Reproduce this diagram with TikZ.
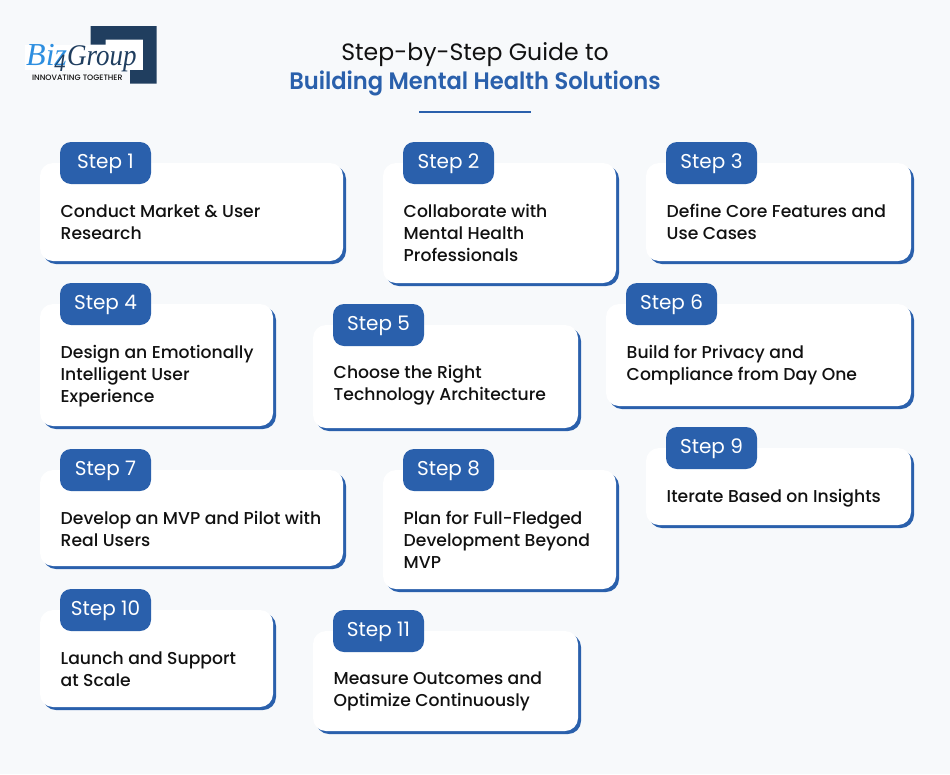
\documentclass[tikz,border=0pt]{standalone}
\usepackage{fontspec}
\setmainfont{Poppins Medium}
\newfontfamily\regularfont{Poppins}
\newfontfamily\titlebold[FakeStretch=0.95]{Poppins SemiBold}
\newfontfamily\logoserif{Liberation Serif}
\newfontfamily\logoserifnarrow[FakeStretch=0.9]{Liberation Serif}
\definecolor{pagebg}{HTML}{F7F9FB}
\definecolor{brand}{HTML}{2A60AC}
\definecolor{navy}{HTML}{203E5F}
\definecolor{sky}{HTML}{2E8FE0}
\definecolor{ink}{HTML}{111111}
\tikzset{
  cardbox/.style={fill=white,rounded corners=13pt},
  cardshade/.style={fill=brand,rounded corners=13pt},
  tabbox/.style={fill=brand,rounded corners=11pt},
  tablabel/.style={text=white,font=\regularfont\fontsize{20}{22}\selectfont,inner sep=0pt,anchor=center},
  cardtext/.style={text=ink,font=\fontsize{17.2}{22}\selectfont,inner sep=0pt,anchor=north west,align=left},
}
\newcommand{\stepcard}[9]{%
  \path[cardshade] (#2+3,#3+3) rectangle (#4+3,#5+3);
  \path[cardbox] (#2,#3) rectangle (#4,#5);
  \path[tabbox] (#2+20,#3-21) rectangle (#2+111,#3+21);
  \node[tablabel] (#1tab) at (#2+65.5,#3+1) {#8};
  \node[cardtext] (#1text) at (#2+20.5,#3+#6-15) {\rule{0pt}{15pt}#9};
}
\begin{document}
\begin{tikzpicture}[x=1pt,y=-1pt]
\useasboundingbox (0,0) rectangle (950,774);
\fill[pagebg] (0,0) rectangle (950,774);
% logo
\fill[white] (25,44.5) rectangle (130,70);
\fill[white] (105,39.5) rectangle (143,70);
\fill[navy] (90.5,26) -- (156.7,26) -- (156.7,83.5) -- (130,83.5) -- (130,70) -- (143,70) -- (143,39.5) -- (105.5,39.5) -- (105.5,44.5) -- (90.5,44.5) -- cycle;
\node[inner sep=0pt,anchor=base west,text=navy] (logoname) at (26,65) {%
  {\logoserif\itshape\fontsize{32}{32}\selectfont\textcolor{sky}{Biz}}%
  \llap{\raisebox{-6.5pt}{\logoserifnarrow\itshape\fontsize{25}{25}\selectfont 4}\kern 1.5pt}%
  {\logoserifnarrow\itshape\fontsize{30}{30}\selectfont Group}};
\node[inner sep=0pt,anchor=center,text=ink,font=\fontsize{7.85}{8}\selectfont] (logotag) at (77.3,77.5) {INNOVATING TOGETHER};
% title
\node[inner sep=0pt,anchor=center,text=ink,font=\regularfont\fontsize{23.6}{26}\selectfont] (titlea) at (475,55) {Step-by-Step Guide to};
\node[inner sep=0pt,anchor=center,text=brand,font=\titlebold\fontsize{23.8}{26}\selectfont] (titleb) at (475,83) {Building Mental Health Solutions};
\fill[brand] (419,111) rectangle (531,113);
% cards
\stepcard{a}{40}{163}{343}{261}{54}{0}{Step 1}{Conduct Market \& User\\Research}
\stepcard{b}{383}{163}{616}{283}{54}{0}{Step 2}{Collaborate with\\Mental Health\\Professionals}
\stepcard{c}{646}{163}{911}{261}{54}{0}{Step 3}{Define Core Features and\\Use Cases}
\stepcard{d}{40}{304}{273}{426}{54}{0}{Step 4}{Design an Emotionally\\Intelligent User\\Experience}
\stepcard{e}{313}{325}{578}{428}{53}{0}{Step 5}{Choose the Right\\Technology Architecture}
\stepcard{f}{606}{304}{911}{406}{54}{0}{Step 6}{Build for Privacy and\\Compliance from Day One}
\stepcard{g}{40}{470}{343}{566}{54}{0}{Step 7}{Develop an MVP and Pilot with\\Real Users}
\stepcard{h}{383}{470}{616}{589}{54}{0}{Step 8}{Plan for Full-Fledged\\Development Beyond\\MVP}
\stepcard{i}{646}{448}{911}{525}{54}{0}{Step 9}{Iterate Based on Insights}
\stepcard{j}{40}{610}{273}{707}{54}{0}{Step 10}{Launch and Support\\at Scale}
\stepcard{k}{313}{631}{578}{731}{53}{0}{Step 11}{Measure Outcomes and\\Optimize Continuously}
\end{tikzpicture}
\end{document}
